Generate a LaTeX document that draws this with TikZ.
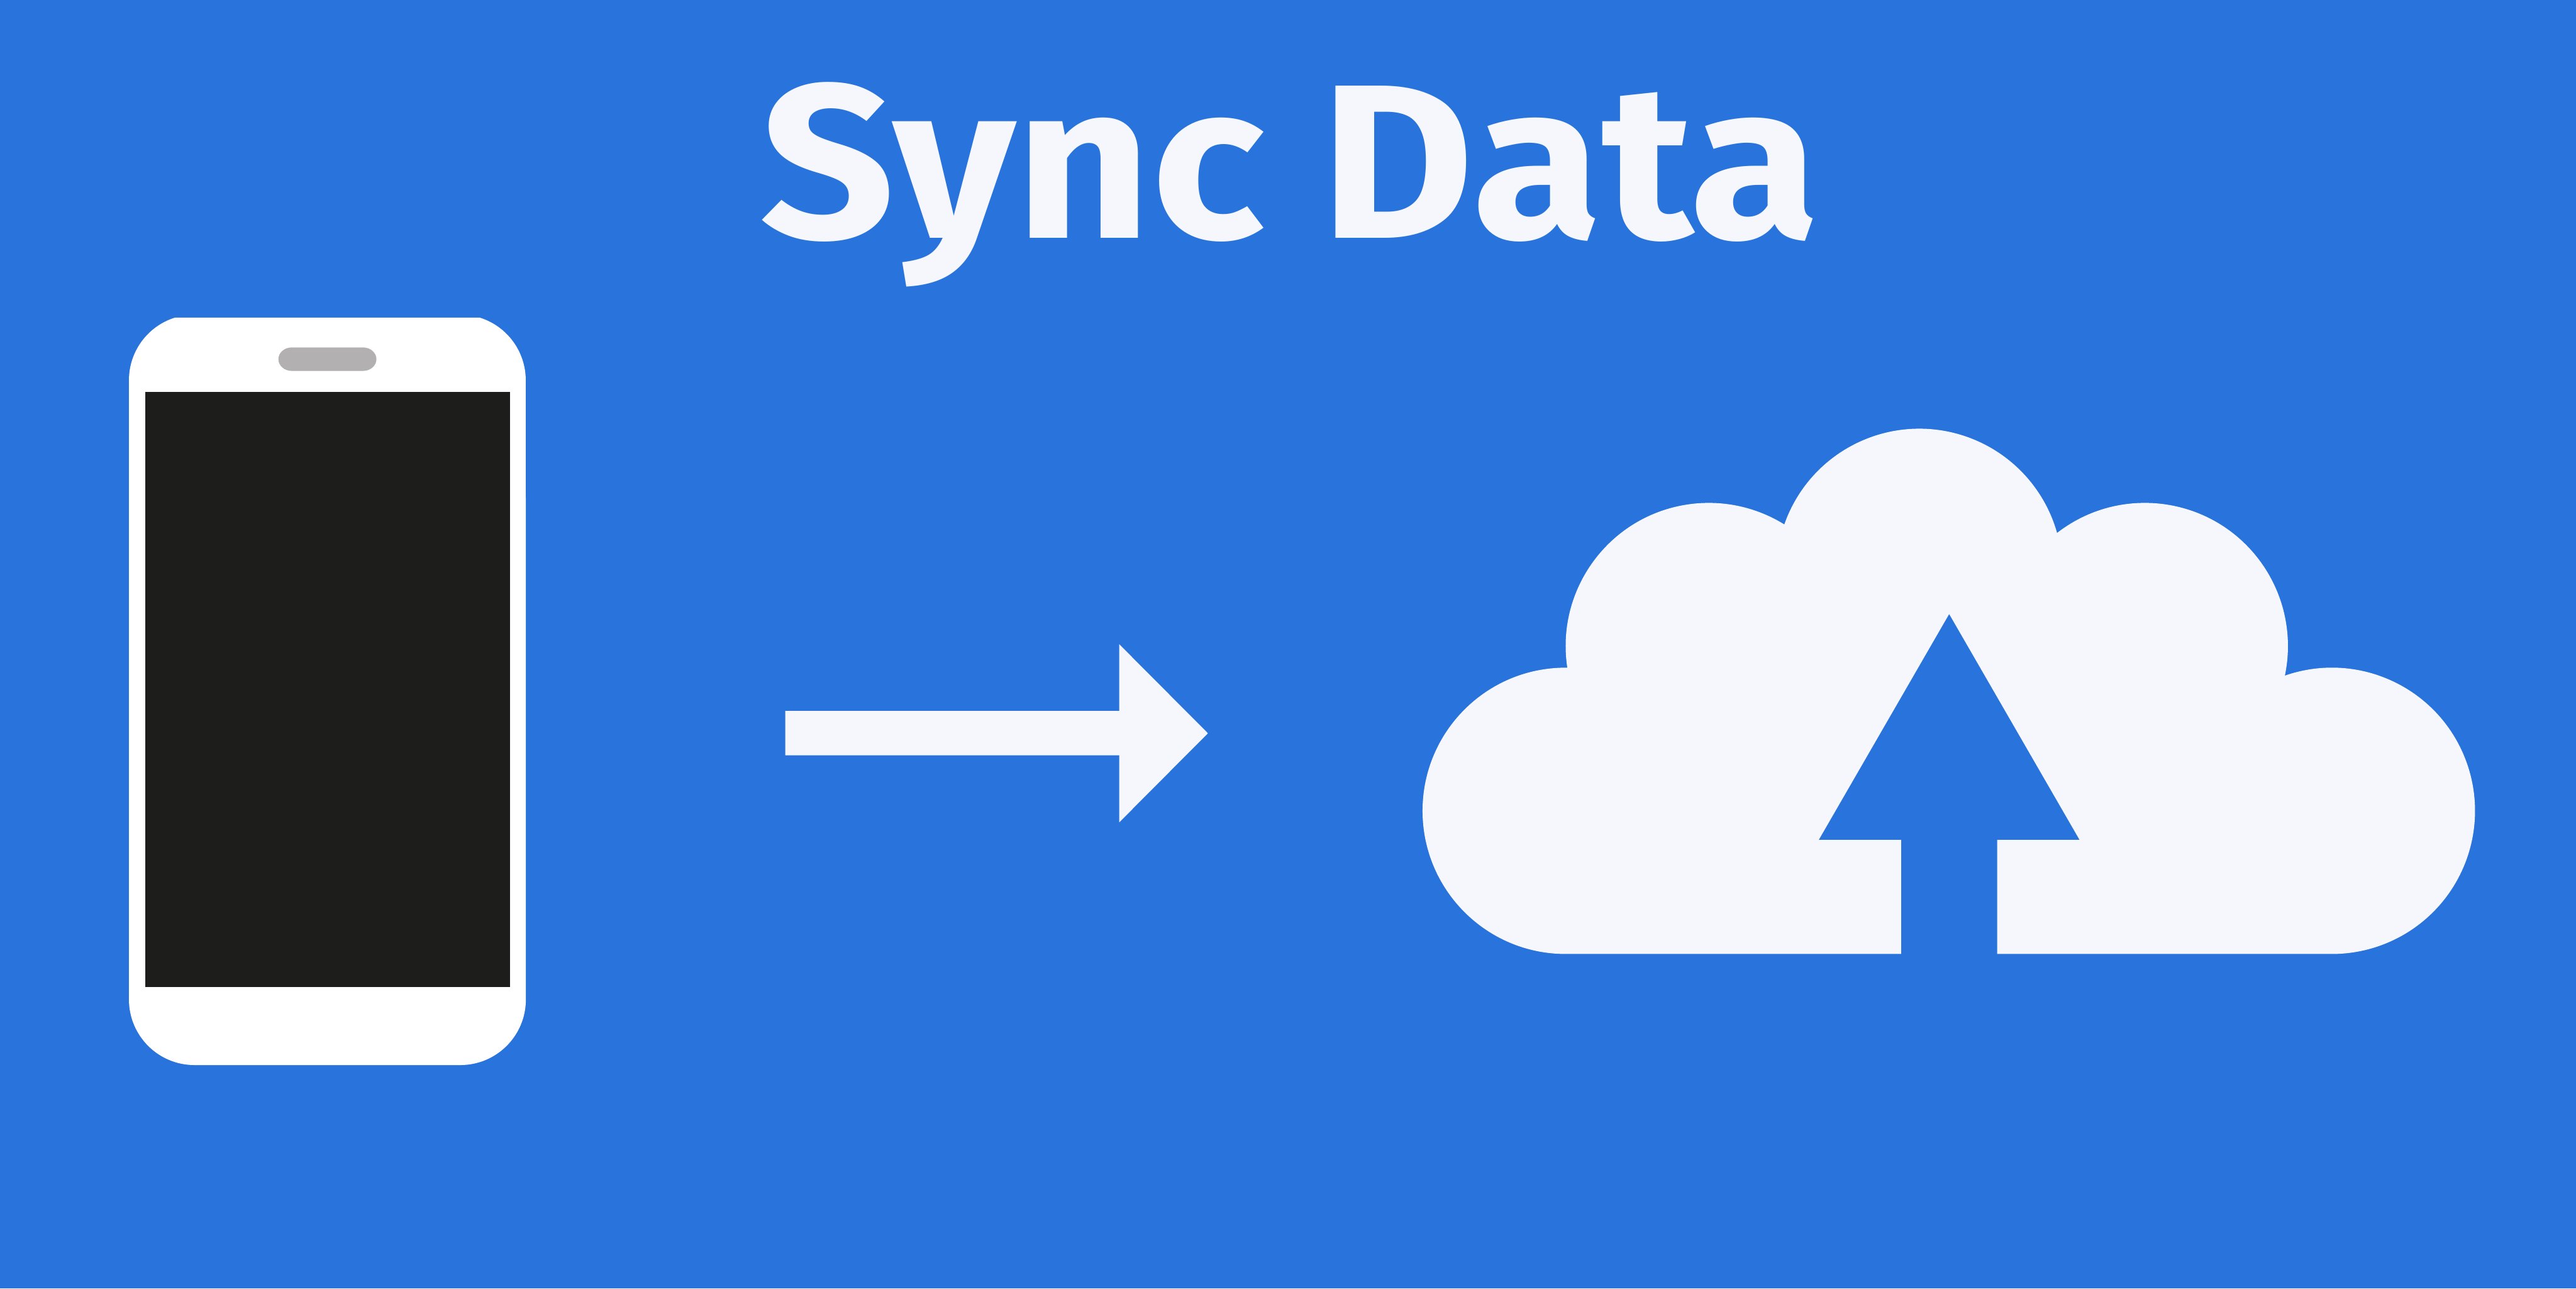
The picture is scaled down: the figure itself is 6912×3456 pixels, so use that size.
\documentclass[tikz,border=0pt]{standalone}
\usepackage{fontspec}
\setmainfont{Fira Sans}
\definecolor{bgblue}{HTML}{2973DD}
\definecolor{paper}{HTML}{F5F7FC}
\definecolor{screenblack}{HTML}{1D1D1B}
\definecolor{speakergrey}{HTML}{B2B0B0}
\tikzset{
  shapefill/.style={fill=paper,draw=none},
  titletext/.style={text=paper,inner sep=0pt,outer sep=0pt,anchor=base west,font=\fontsize{167.5}{170}\selectfont\bfseries}
}
\begin{document}
\begin{tikzpicture}[x=0.01cm,y=0.01cm]
\useasboundingbox (0,0) rectangle (6912,3456);
\fill[bgblue] (0,0) rectangle (6912,3456);
% title
\node[titletext] (title) at (2040,2817) {\scalebox{1.076}[1]{Sync Data}};
% phone
\fill[white] (470,2604) -- (1287,2604)
  arc[start angle=72.7,end angle=0,radius=176] -- (1411,775)
  arc[start angle=0,end angle=-90,radius=176] -- (522,599)
  arc[start angle=-90,end angle=-180,radius=176] -- (346,2436)
  arc[start angle=180,end angle=107.3,radius=176] -- cycle;
\fill[screenblack] (390,809) rectangle (1368,2404);
\fill[speakergrey] (782,2524) -- (974,2524)
  arc[start angle=90,end angle=-90,x radius=36,y radius=31.5] -- (783,2461)
  arc[start angle=270,end angle=90,x radius=36,y radius=31.5] -- cycle;
% arrow
\fill[paper] (2107,1430) -- (2107,1549) -- (3003,1549) -- (3003,1728) -- (3241,1489) -- (3003,1250) -- (3003,1430) -- cycle;
% cloud
\path[shapefill] (5101,897) -- (4201,897)
  arc[start angle=270,end angle=90,radius=384]
  -- ([shift={(188.7:384)}]4585,1723) arc[start angle=188.7,end angle=58.3,radius=384]
  -- ([shift={(160.6:384)}]5150,1922) arc[start angle=160.6,end angle=15.7,radius=384]
  -- ([shift={(127.8:384)}]5755,1723) arc[start angle=127.8,end angle=-12,radius=384]
  -- ([shift={(109.2:384)}]6257,1281) arc[start angle=109.2,end angle=-90,radius=384]
  -- (5359,897) -- (5359,1203) -- (5580,1203) -- (5230,1809) -- (4880,1203) -- (5101,1203) -- cycle;
\end{tikzpicture}
\end{document}
